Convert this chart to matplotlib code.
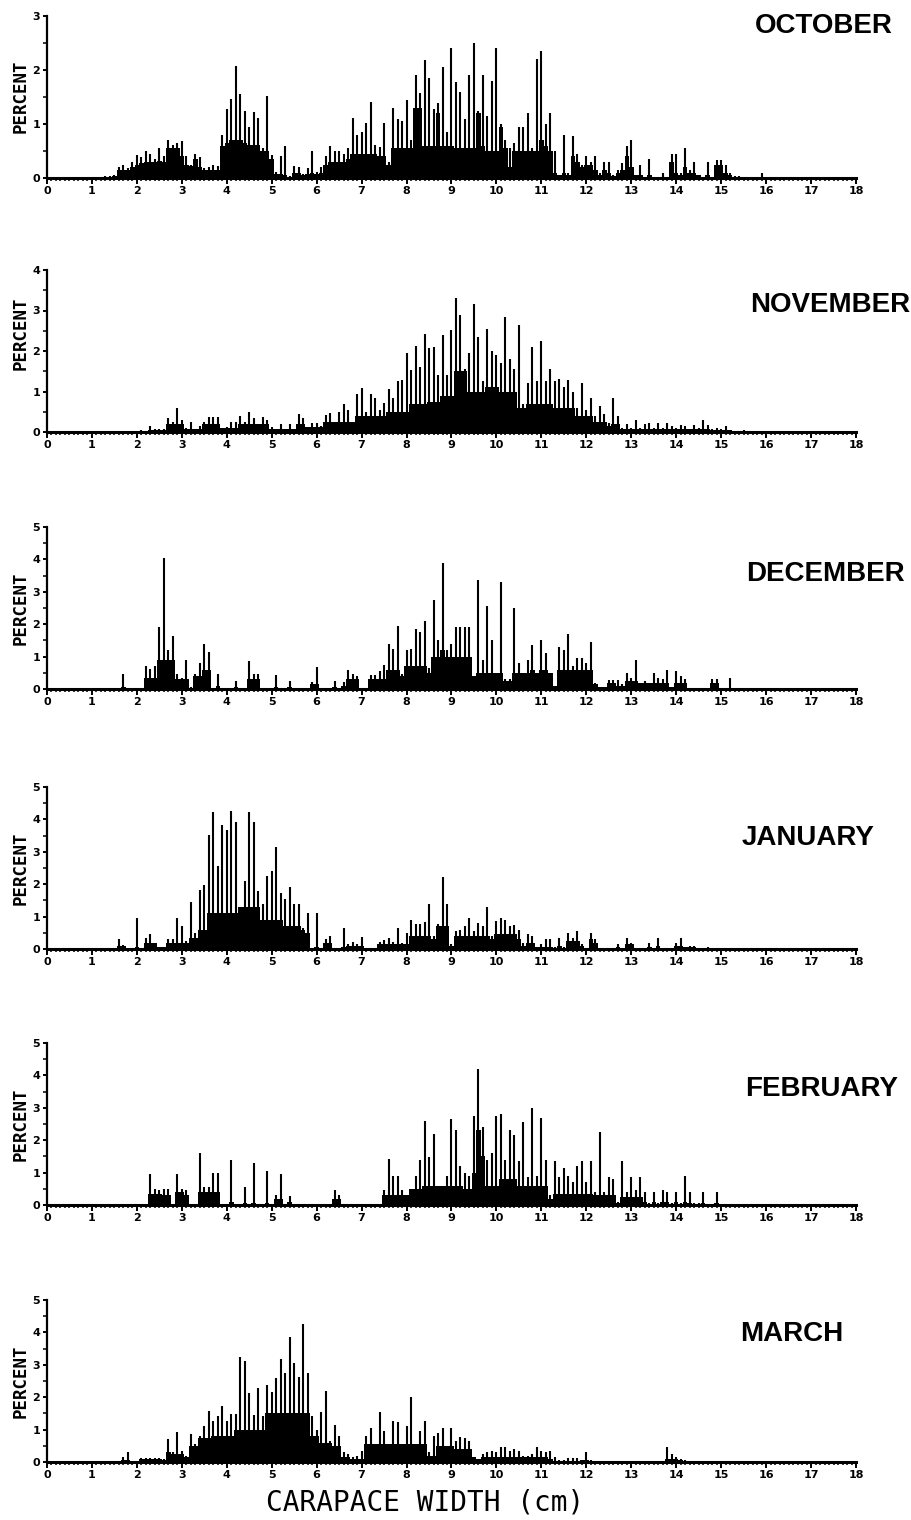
import matplotlib
matplotlib.use("Agg")
import matplotlib.pyplot as plt
from matplotlib.ticker import MultipleLocator
import numpy as np

# Carapace width bins (cm), 1 mm wide, starting at 1.0 cm
X0 = 1.0
months = ["OCTOBER", "NOVEMBER", "DECEMBER", "JANUARY", "FEBRUARY", "MARCH"]
ymax = [3, 4, 5, 5, 5, 5]

# percent at each whole-mm reading (the spikes), one row per cm from 1 to 15
oct_spike = [
    0, 0, 0, .03, .03, .05, .2, .25, .18, .3,
    .42, .38, .5, .45, .35, .55, .4, .7, .62, .65,
    .68, .4, .25, .45, .38, .18, .2, .25, .22, .8,
    1.27, 1.47, 2.08, 1.55, 1.25, .95, 1.22, 1.12, .55, 1.52,
    .42, .12, .4, .6, .03, .22, .2, .08, .18, .5,
    .12, .2, .4, .6, .5, .5, .45, .55, 1.12, .8,
    .85, 1.02, 1.4, .62, .57, 1.02, .3, 1.3, 1.1, 1.05,
    1.45, .7, 1.9, 1.58, 2.18, 1.85, 1.28, 1.38, 2.05, .85,
    2.4, 1.77, 1.6, 1.1, 1.9, 2.5, 1.25, 1.9, 1.15, 1.8,
    2.4, 1.0, .7, .55, .65, .95, .95, 1.2, .55, 2.2,
    2.35, 1.0, 1.2, .5, .05, .8, .1, .78, .45, .25,
    .4, .3, .4, .1, .3, .3, .05, .15, .28, .6,
    .7, .05, .25, .02, .35, .02, .02, .1, .02, .45,
    .45, .1, .55, .15, .3, .05, .02, .3, .02, .33,
    .33, .25, .1, .03, .03, .02, .02, .02, .02, .1,
]
# percent filling the rest of each mm interval (the solid base)
oct_base = [
    0, 0, 0, .02, .02, .03, .15, .15, .15, .2,
    .25, .28, .3, .3, .3, .32, .3, .55, .55, .55,
    .4, .25, .22, .35, .2, .15, .15, .15, .15, .6,
    .65, .7, .7, .7, .65, .62, .62, .62, .5, .5,
    .35, .08, .08, .05, .02, .1, .1, .05, .08, .1,
    .08, .1, .25, .3, .3, .3, .3, .35, .45, .45,
    .45, .45, .45, .45, .4, .4, .25, .55, .55, .55,
    .55, .55, 1.3, 1.3, .6, .6, .6, 1.2, .6, .6,
    .6, .55, .55, .55, .55, .55, 1.2, .6, .5, .5,
    .5, .95, .55, .2, .5, .5, .5, .5, .5, .5,
    .7, .6, .5, .1, .05, .1, .05, .4, .3, .2,
    .25, .25, .15, .05, .15, .1, .03, .1, .15, .4,
    .2, .05, .05, .02, .05, .02, .02, .02, .02, .3,
    .1, .05, .2, .1, .1, .05, .02, .05, .02, .25,
    .25, .1, .05, .02, .02, .02, .02, .02, .02, .02,
]

nov_spike = [
    .02, .02, .02, .02, .02, .02, .02, .02, .02, .02,
    .02, .05, .03, .15, .07, .07, .07, .35, .25, .6,
    .3, .1, .25, .05, .15, .25, .38, .38, .38, .1,
    .12, .25, .25, .4, .25, .5, .35, .2, .38, .3,
    .12, .08, .2, .08, .2, .07, .45, .35, .1, .22,
    .22, .15, .42, .48, .25, .5, .7, .55, .25, .95,
    1.08, .5, .95, .85, .55, .72, 1.07, .85, 1.25, 1.28,
    1.95, 1.52, 2.12, 1.6, 2.42, 2.07, 2.1, 1.4, 2.4, 1.4,
    2.52, 3.3, 2.9, 1.55, 1.95, 3.15, 2.35, 1.25, 2.55, 2.0,
    1.9, 1.7, 2.85, 1.8, 1.55, 2.65, .7, 1.2, 2.1, 1.25,
    2.25, 1.25, 1.55, 1.25, 1.32, 1.1, 1.28, 1.0, .6, 1.2,
    .55, .85, .4, .65, .45, .22, .85, .4, .1, .2,
    .1, .3, .1, .2, .22, .1, .22, .1, .22, .15,
    .1, .17, .15, .08, .18, .1, .3, .18, .08, .1,
    .08, .15, .05, .03, .03, .05, .02, .02, .02, .02,
]
nov_base = [
    .02, .02, .02, .02, .02, .02, .02, .02, .02, .02,
    .02, .02, .02, .05, .05, .05, .05, .2, .2, .2,
    .2, .07, .07, .07, .07, .2, .2, .2, .2, .1,
    .1, .1, .1, .2, .2, .2, .2, .2, .2, .2,
    .07, .07, .07, .07, .07, .07, .2, .2, .12, .12,
    .12, .12, .25, .25, .25, .25, .25, .25, .25, .4,
    .4, .4, .4, .4, .4, .4, .5, .5, .5, .5,
    .5, .7, .7, .7, .7, .75, .75, .75, .9, .9,
    .9, 1.5, 1.5, 1.5, 1.0, 1.0, 1.0, 1.0, 1.1, 1.1,
    1.1, 1.0, 1.0, 1.0, 1.0, .6, .6, .7, .7, .7,
    .7, .7, .7, .6, .6, .6, .6, .6, .4, .4,
    .4, .4, .25, .25, .25, .15, .2, .2, .08, .08,
    .08, .08, .08, .08, .08, .08, .08, .08, .08, .08,
    .08, .08, .08, .08, .08, .08, .08, .08, .05, .05,
    .05, .05, .05, .02, .02, .02, .02, .02, .02, .02,
]

dec_spike = [
    0, 0, 0, 0, 0, 0, 0, .45, 0, 0,
    0, 0, .72, .62, .7, 1.9, 4.05, 1.2, 1.65, .45,
    .35, .88, .05, .45, .8, 1.4, 1.15, 0, .45, 0,
    0, 0, .25, 0, 0, .85, .45, .45, 0, 0,
    0, .42, 0, 0, .25, 0, 0, 0, 0, .22,
    .68, 0, 0, 0, .25, 0, .22, .6, .45, .4,
    0, 0, .42, .42, .55, .75, 1.4, 1.25, 1.95, .45,
    1.2, 1.25, 1.85, 1.75, 2.1, .65, 2.75, 1.5, 3.9, 1.2,
    1.4, 1.9, 1.9, 1.9, 1.9, .3, 3.35, .9, 2.55, 1.5,
    .5, 3.3, .3, .3, 2.5, .8, .5, .9, 1.35, .5,
    1.5, 1.1, .5, .1, 1.3, 1.2, 1.7, .7, .95, .95,
    .8, 1.45, .2, .05, 0, .28, .28, .28, .15, .5,
    .35, .9, .2, .25, .2, .5, .35, .3, .6, .05,
    .55, .4, .3, .02, 0, 0, 0, 0, .3, .3,
    0, 0, .35, 0, 0, 0, 0, 0, 0, 0,
]
dec_base = [
    0, 0, 0, 0, 0, 0, 0, .05, 0, 0,
    0, 0, .35, .35, .35, .9, .9, .9, .9, .3,
    .3, .3, 0, .4, .4, .6, .6, 0, .1, 0,
    0, 0, .05, 0, 0, .3, .3, .3, 0, 0,
    0, .05, 0, 0, .05, 0, 0, 0, 0, .15,
    .15, 0, 0, 0, .05, 0, .1, .3, .3, .3,
    0, 0, .3, .3, .3, .3, .6, .6, .6, .4,
    .7, .7, .7, .7, .7, .5, 1.0, 1.0, 1.2, 1.0,
    1.0, 1.0, 1.0, 1.0, 1.0, .4, .5, .5, .5, .5,
    .5, .5, .25, .25, .5, .5, .5, .5, .6, .5,
    .6, .6, .5, .1, .6, .6, .6, .6, .6, .6,
    .6, .6, .15, .05, .05, .2, .2, .1, .1, .25,
    .25, .25, .2, .2, .2, .2, .2, .2, .2, .05,
    .2, .2, .2, .02, .02, .02, .02, .02, .2, .2,
    .01, .01, .02, .01, .01, .01, .01, .01, .01, .01,
]

jan_spike = [
    0, 0, 0, 0, 0, 0, .3, .12, 0, 0,
    .97, 0, .35, .45, .2, 0, 0, .3, .3, .97,
    .72, .25, 1.45, .5, 1.82, 1.97, 3.53, 4.22, 2.55, 3.82,
    3.68, 4.27, 3.92, 1.0, 2.1, 4.22, 3.92, 1.78, 1.38, 2.25,
    2.4, 3.15, 1.72, 1.55, 1.92, 1.4, 1.4, .65, 1.1, 0,
    1.1, 0, .3, .4, 0, 0, .65, .15, .22, .15,
    .38, 0, 0, 0, .22, .28, .35, .22, .65, .2,
    .48, .88, .78, .78, .82, 1.38, .4, .78, 2.22, 1.38,
    .15, .55, .6, .7, .95, .55, .8, .7, 1.3, .4,
    .85, .95, .9, .7, .75, .6, .2, .45, .4, .05,
    .15, .3, .3, .05, .35, .05, .5, .35, .55, .15,
    .02, .5, .3, 0, 0, 0, 0, .15, 0, .35,
    .2, 0, 0, 0, .2, 0, .35, 0, 0, 0,
    .2, .35, 0, .1, .1, 0, 0, .07, 0, 0,
    0, 0, 0, 0, 0, 0, 0, 0, 0, 0,
]
jan_base = [
    0, 0, 0, 0, 0, 0, .1, .1, .02, .02,
    .05, .02, .2, .2, .2, .07, .07, .2, .2, .2,
    .2, .2, .35, .35, .6, .6, 1.1, 1.1, 1.1, 1.1,
    1.1, 1.1, 1.1, 1.3, 1.3, 1.3, 1.3, 1.3, .9, .9,
    .9, .9, .9, .7, .7, .7, .7, .6, .5, .02,
    .05, .02, .2, .2, .02, .02, .05, .1, .1, .1,
    .1, .02, .02, .02, .15, .15, .15, .15, .15, .15,
    .15, .4, .4, .4, .4, .4, .3, .7, .7, .7,
    .1, .4, .4, .4, .4, .4, .4, .4, .4, .3,
    .45, .45, .45, .45, .45, .3, .1, .2, .2, .05,
    .05, .05, .05, .02, .1, .02, .25, .25, .25, .1,
    .02, .3, .2, .02, .02, .02, .02, .05, .02, .15,
    .15, .02, .02, .02, .05, .02, .1, .01, .01, .01,
    .1, .1, .05, .05, .05, .02, .02, .02, .01, .01,
    .01, .01, .01, .01, .01, .01, .01, .01, .01, .01,
]

feb_spike = [
    0, 0, 0, 0, 0, 0, 0, 0, 0, 0,
    0, 0, 0, .95, .5, .45, .5, .5, 0, .95,
    .5, .45, 0, 0, 1.6, .55, .55, 1.0, 1.0, 0,
    0, 1.4, 0, 0, .55, 0, 1.3, 0, 0, 1.05,
    0, .3, .95, 0, .28, 0, 0, 0, 0, 0,
    0, 0, 0, 0, .45, .3, 0, 0, 0, 0,
    0, 0, 0, 0, 0, .45, 1.43, .9, .9, .45,
    .3, .45, .9, 1.38, 2.6, 1.48, 2.2, .45, .45, .9,
    2.65, 2.3, 1.2, 1.0, .9, 2.75, 4.2, 2.4, 1.4, 1.6,
    2.75, 2.8, 1.4, 2.3, 2.15, 1.35, 2.55, .85, 3.0, .9,
    2.7, 1.4, .3, 1.35, .85, 1.15, .9, .7, 1.2, 1.35,
    .7, 1.35, .4, 2.25, .4, .85, .8, .1, 1.35, .4,
    .85, .45, .85, .4, .05, .4, .05, .45, .4, .05,
    .4, .05, .9, .4, .05, .05, .4, .02, .02, .4,
    .02, .02, .02, .02, .02, 0, 0, 0, 0, 0,
]
feb_base = [
    0, 0, 0, 0, 0, 0, 0, 0, 0, 0,
    0, 0, 0, .35, .35, .35, .3, .3, 0, .4,
    .4, .3, 0, 0, .4, .4, .4, .4, .4, 0,
    0, .1, 0, 0, .05, 0, .05, 0, 0, .05,
    0, .2, .2, 0, .1, 0, 0, 0, 0, 0,
    0, 0, 0, 0, .2, .2, 0, 0, 0, 0,
    0, 0, 0, 0, 0, .3, .3, .3, .3, .3,
    .3, .5, .5, .5, .6, .6, .6, .6, .6, .6,
    .6, .6, .6, .5, .5, 1.0, 2.3, 1.5, .6, .6,
    .6, .8, .8, .8, .8, .6, .6, .6, .6, .6,
    .6, .6, .2, .35, .35, .35, .35, .35, .35, .35,
    .35, .35, .3, .3, .3, .3, .3, .05, .25, .25,
    .25, .25, .25, .1, .02, .08, .02, .08, .08, .02,
    .08, .02, .08, .05, .02, .02, .05, .02, .02, .05,
    .02, .02, .02, .02, .02, .02, .02, .02, .02, .02,
]

mar_spike = [
    0, 0, 0, 0, 0, 0, 0, .15, .3, .03,
    .03, .12, .12, .12, .12, .12, .1, .7, .3, .92,
    .35, .2, .85, .55, .8, 1.1, 1.57, 1.28, 1.42, 1.73,
    1.28, 1.47, 1.47, 3.23, 3.12, 2.12, 1.45, 2.27, 1.42, 2.38,
    2.15, 2.58, 3.17, 2.75, 3.85, 3.05, 2.62, 4.25, 2.75, 1.42,
    1.0, 1.55, 2.2, .65, 1.15, .8, .3, .25, .15, .2,
    .35, .8, 1.05, .55, 1.55, .95, .4, 1.28, 1.22, .5,
    1.1, 2.0, .5, .95, 1.28, .3, .8, .9, 1.05, .3,
    1.05, .65, .78, .75, .65, .15, .1, .25, .3, .35,
    .3, .45, .45, .35, .4, .35, .2, .2, .25, .45,
    .35, .3, .35, .15, .05, .05, .12, .12, .12, .05,
    .3, .05, .03, .03, .03, .03, .03, .03, .04, .03,
    .03, .03, .03, .03, .03, .03, .03, .03, .45, .25,
    .15, .1, .05, .03, .03, .03, .02, .02, .02, .02,
    .02, .02, .02, .02, .02, .02, .02, .02, .02, .02,
]
mar_base = [
    0, 0, 0, 0, 0, 0, 0, .05, .05, .03,
    .03, .1, .1, .1, .1, .1, .05, .3, .25, .25,
    .25, .15, .5, .5, .75, .75, .75, .8, .8, .8,
    .8, .8, 1.0, 1.0, 1.0, 1.0, 1.0, 1.0, 1.0, 1.5,
    1.5, 1.5, 1.5, 1.5, 1.5, 1.5, 1.5, 1.5, 1.5, .8,
    .8, .6, .6, .6, .5, .5, .15, .15, .1, .1,
    .1, .55, .55, .55, .55, .55, .55, .55, .55, .55,
    .55, .55, .55, .55, .55, .2, .2, .5, .5, .5,
    .5, .4, .4, .4, .4, .15, .08, .15, .15, .15,
    .15, .15, .15, .15, .15, .15, .15, .15, .15, .15,
    .15, .15, .08, .04, .04, .04, .04, .04, .04, .05,
    .05, .03, .03, .03, .03, .03, .03, .03, .03, .03,
    .03, .03, .03, .03, .03, .03, .03, .03, .08, .08,
    .08, .05, .03, .02, .02, .02, .02, .02, .02, .02,
    .02, .02, .02, .02, .02, .02, .02, .02, .02, .02,
]

spikes = [oct_spike, nov_spike, dec_spike, jan_spike, feb_spike, mar_spike]
bases = [oct_base, nov_base, dec_base, jan_base, feb_base, mar_base]

# layout (figure pixels, 912 x 1520)
W, H = 912, 1520
ax_left, ax_right = 47, 856
ax_h = 162
baselines = [178, 432, 689, 949, 1205, 1462]
title_pos = [(755, 26), (750, 305), (746, 574), (742, 838), (745, 1089), (740, 1334)]
ylabel_y = [96, 333, 608, 868, 1124, 1381]

fig = plt.figure(figsize=(W / 100, H / 100), dpi=100)

for i, name in enumerate(months):
    y0 = baselines[i]
    ax = fig.add_axes([ax_left / W, 1 - y0 / H, (ax_right - ax_left) / W, ax_h / H])
    sp = np.array(spikes[i])
    bs = np.array(bases[i])
    x = X0 + 0.1 * np.arange(len(sp))

    ax.fill_between(x, bs, step="mid", color="black", linewidth=0)
    ax.vlines(x, 0, sp, color="black", linewidth=1.5)

    ax.set_xlim(0, 18)
    ax.set_ylim(0, ymax[i])
    for s in ["top", "right"]:
        ax.spines[s].set_visible(False)
    ax.spines["bottom"].set_linewidth(2.2)
    ax.spines["left"].set_linewidth(1.6)

    ax.xaxis.set_major_locator(MultipleLocator(1))
    ax.xaxis.set_minor_locator(MultipleLocator(0.1))
    ax.yaxis.set_major_locator(MultipleLocator(1))
    ax.yaxis.set_minor_locator(MultipleLocator(0.5))
    ax.tick_params(axis="x", which="major", length=4, width=1.4, pad=2)
    ax.tick_params(axis="x", which="minor", length=2.5, width=1.1)
    ax.tick_params(axis="y", which="major", length=3, width=1.4, pad=2)
    ax.tick_params(axis="y", which="minor", length=3, width=1.1)
    ax.set_xticks(range(0, 19))
    ax.set_xticklabels([str(v) for v in range(0, 19)], fontsize=8, fontweight="bold")
    ax.set_yticks(range(0, ymax[i] + 1))
    ax.set_yticklabels([str(v) for v in range(0, ymax[i] + 1)], fontsize=8, fontweight="bold")

    tx, ty = title_pos[i]
    fig.text(tx / W, 1 - ty / H, name, fontsize=20, fontweight="bold",
             family="Liberation Sans", ha="left", va="center")
    fig.text(21 / W, 1 - ylabel_y[i] / H, "PERCENT", rotation=90, fontsize=12.5,
             fontweight="bold", family="DejaVu Sans Mono", ha="center", va="center")

fig.text(425 / W, 1 - 1503 / H, "CARAPACE WIDTH (cm)", fontsize=20,
         family="DejaVu Sans Mono", ha="center", va="center")

fig.savefig("out.png", dpi=100)
